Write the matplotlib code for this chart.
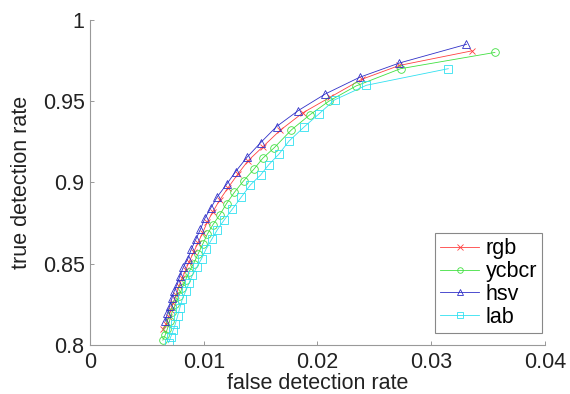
import matplotlib
matplotlib.use("Agg")
import matplotlib.pyplot as plt

plt.rcParams['font.family'] = ['Liberation Sans', 'DejaVu Sans']

labels = ["rgb", "ycbcr", "hsv", "lab"]
colors = ["#ff4040", "#40e040", "#3030c8", "#30e0f0"]
markers = ["x", "o", "^", "s"]

rgb_x = [0.0336, 0.0272, 0.0239, 0.0211, 0.0187, 0.0167, 0.0152, 0.0139, 0.0130, 0.0121,
         0.0114, 0.0108, 0.0103, 0.0099, 0.0095, 0.0091, 0.0087, 0.0084, 0.0081, 0.0078,
         0.0076, 0.0073, 0.0071, 0.0069, 0.0067, 0.0064]
rgb_y = [0.981, 0.972, 0.9635, 0.9524, 0.9428, 0.932, 0.922, 0.9134, 0.9052, 0.8964,
         0.8892, 0.882, 0.8755, 0.869, 0.863, 0.857, 0.851, 0.846, 0.841, 0.836,
         0.831, 0.826, 0.8215, 0.817, 0.813, 0.8097]

ycbcr_x = [0.0356, 0.0273, 0.0234, 0.0210, 0.0193, 0.0177, 0.0162, 0.0152, 0.0144, 0.0135,
           0.0127, 0.0120, 0.0114, 0.0108, 0.0103, 0.0099, 0.0095, 0.0091, 0.0087, 0.0084,
           0.0081, 0.0078, 0.0075, 0.0072, 0.0070, 0.0068, 0.0066, 0.0064]
ycbcr_y = [0.980, 0.970, 0.9594, 0.950, 0.9415, 0.9323, 0.9214, 0.915, 0.9081, 0.901,
           0.894, 0.887, 0.880, 0.874, 0.868, 0.862, 0.856, 0.850, 0.845, 0.840,
           0.835, 0.830, 0.825, 0.820, 0.815, 0.810, 0.806, 0.803]

hsv_x = [0.0331, 0.0272, 0.0237, 0.0207, 0.0183, 0.0164, 0.0150, 0.0138, 0.0128, 0.0120,
         0.0112, 0.0106, 0.0101, 0.0097, 0.0093, 0.0089, 0.0086, 0.0082, 0.0079, 0.0077,
         0.0074, 0.0072, 0.0070, 0.0068, 0.0066]
hsv_y = [0.985, 0.9735, 0.9647, 0.9545, 0.9442, 0.9344, 0.9245, 0.9155, 0.9067, 0.8988,
         0.8913, 0.8841, 0.878, 0.8711, 0.865, 0.8589, 0.8531, 0.8478, 0.8427, 0.838,
         0.8332, 0.8287, 0.824, 0.8195, 0.8145]

lab_x = [0.0315, 0.0243, 0.0215, 0.0201, 0.0188, 0.0175, 0.0166, 0.0157, 0.0150, 0.0141,
         0.0133, 0.0125, 0.0118, 0.0112, 0.0107, 0.0102, 0.0098, 0.0094, 0.0090, 0.0087,
         0.0084, 0.0081, 0.0079, 0.0077, 0.0075, 0.0073, 0.0071, 0.0069]
lab_y = [0.970, 0.9598, 0.9508, 0.942, 0.934, 0.9255, 0.9174, 0.9108, 0.9046, 0.8985,
         0.891, 0.8835, 0.877, 0.871, 0.865, 0.859, 0.853, 0.848, 0.843, 0.838,
         0.833, 0.828, 0.823, 0.818, 0.813, 0.809, 0.805, 0.8014]

xticks = [0, 0.01, 0.02, 0.03, 0.04]
xtick_labels = ["0", "0.01", "0.02", "0.03", "0.04"]
yticks = [0.8, 0.85, 0.9, 0.95, 1.0]
ytick_labels = ["0.8", "0.85", "0.9", "0.95", "1"]

series = [(rgb_x, rgb_y), (ycbcr_x, ycbcr_y), (hsv_x, hsv_y), (lab_x, lab_y)]

FS = 15.5

fig = plt.figure(figsize=(5.7, 3.94), dpi=100)
ax = fig.add_axes([0.158, 0.1244, 0.798, 0.825])

for (xs, ys), lab, c, m in zip(series, labels, colors, markers):
    ms = 5 if m == "x" else 5.5
    ax.plot(xs, ys, color=c, marker=m, markersize=ms, markerfacecolor="none",
            markeredgewidth=0.6, linewidth=0.6, label=lab)

ax.set_xlim(0, 0.04)
ax.set_ylim(0.8, 1.0)
ax.set_xticks(xticks)
ax.set_xticklabels(xtick_labels)
ax.set_yticks(yticks)
ax.set_yticklabels(ytick_labels)
ax.tick_params(direction="in", length=3, width=0.6, color="#888888",
               labelsize=FS, labelcolor="#222222")
ax.tick_params(axis="x", pad=5)
ax.tick_params(axis="y", pad=4)
for s in ["top", "right"]:
    ax.spines[s].set_visible(False)
for s in ["left", "bottom"]:
    ax.spines[s].set_color("#999999")
    ax.spines[s].set_linewidth(0.8)

ax.set_xlabel("false detection rate", fontsize=FS, color="#222222", labelpad=0)
ax.set_ylabel("true detection rate", fontsize=FS, color="#222222", labelpad=8)

leg = ax.legend(loc="upper left", bbox_to_anchor=(435/570, 1 - 233/394),
                bbox_transform=fig.transFigure, fontsize=FS, frameon=True,
                fancybox=False, framealpha=1, edgecolor="#888888",
                handlelength=1.8, handletextpad=0.3, borderpad=0.25,
                labelspacing=0.08, borderaxespad=0)
leg.get_frame().set_linewidth(0.8)
for h in leg.legend_handles:
    h.set_markersize(4)

fig.savefig("out.png", dpi=100)
